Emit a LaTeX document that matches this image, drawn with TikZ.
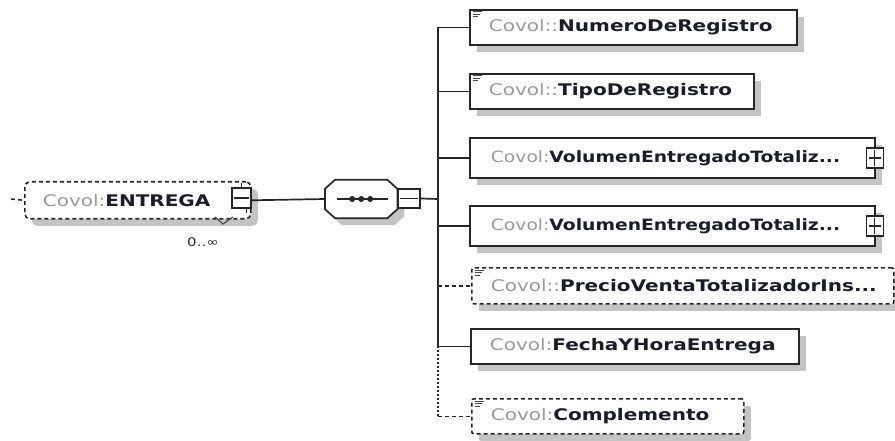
\documentclass[tikz,border=0pt]{standalone}
\usepackage{fontspec}
\newfontfamily\elfont[FakeStretch=1.25]{DejaVu Sans}
\newfontfamily\elfontn[FakeStretch=1.2]{DejaVu Sans}
\usetikzlibrary{shadows}
\definecolor{pfx}{HTML}{9A9A9A}
\definecolor{nm}{HTML}{1C1C28}
\definecolor{shd}{HTML}{C4C4C4}
\newcommand{\elt}[2]{\mbox{\textcolor{pfx}{#1}\textbf{\textcolor{nm}{#2}}}}
\begin{document}
\begin{tikzpicture}[x=1pt,y=-1pt,
  elem/.style={draw=black!85, line width=1.8pt, fill=white,
    general shadow={fill=shd, shadow xshift=7pt, shadow yshift=-7pt},
    anchor=north west, minimum height=35pt, inner xsep=19pt, inner ysep=0pt,
    align=left, font=\elfont\fontsize{16}{18}\selectfont},
  optelem/.style={elem, line width=1.6pt, dash pattern=on 4pt off 3pt, rounded corners=2pt},
  narrowtext/.style={font=\elfontn\fontsize{15.6}{17}\selectfont},
  conn/.style={draw=black!85, line width=1.7pt},
  optconn/.style={conn, line width=1.5pt, dash pattern=on 4pt off 3pt},
  dotconn/.style={conn, line width=1.5pt, dash pattern=on 2pt off 2pt},
  pmbox/.style={draw=black!85, line width=1.4pt, fill=white, minimum width=17pt, minimum height=20pt, inner sep=0pt},
  icon/.style={draw=black!70, line width=1pt}
]
\useasboundingbox (0,0) rectangle (895,441);

% root element
\node[optelem, text width=190pt, minimum height=37pt, inner xsep=18pt, rounded corners=5pt] (ent) at (24,181) {\elt{Covol:}{ENTREGA}};
\node[pmbox, minimum width=19pt, minimum height=20pt] (entpm) at (241.5,198) {};
\draw[conn, line width=1.3pt] ([xshift=3pt]entpm.west) -- ([xshift=-3pt]entpm.east);
\draw[conn, line width=1.2pt] (entpm.north) -- ++(0,-4);
\draw[conn, line width=1.2pt] ([xshift=5pt]entpm.south) -- ++(0,4);
\draw[optconn] (11,199) -- (ent.west);
\draw[line width=1.2pt, black!70] (215,217) -- (223,224) -- (233,217);
\node[font=\elfont\fontsize{12}{14}\selectfont, text=black!80, inner sep=0pt] (mult) at (203,242) {0..∞};

% sequence compositor
\node[minimum width=72pt, minimum height=38pt, inner sep=0pt, anchor=west] (seq) at (325,199) {};
\draw[line width=1.7pt, draw=black!85, fill=white,
      general shadow={fill=shd, shadow xshift=7pt, shadow yshift=-7pt}]
  ([xshift=10pt]seq.north west) -- ([xshift=-10pt]seq.north east) -- ([yshift=-9pt]seq.north east)
  -- ([yshift=9pt]seq.south east) -- ([xshift=-10pt]seq.south east) -- ([xshift=10pt]seq.south west)
  -- ([yshift=9pt]seq.south west) -- ([yshift=-9pt]seq.north west) -- cycle;
\draw[line width=1.5pt, black!85] ([xshift=12pt]seq.west) -- ([xshift=-9pt]seq.east);
\foreach \dx in {-9,0,9} \fill[black!85] ([xshift=\dx pt]seq.center) circle (3pt);
\node[pmbox, minimum width=22pt, minimum height=19pt] (seqpm) at (409,198.5) {};
\draw[conn, line width=1.3pt] ([xshift=3pt]seqpm.west) -- ([xshift=-3pt]seqpm.east);
\draw[conn] (entpm.east |- ent.west) -- (seq.west);
\coordinate (bus) at (438,199);
\draw[conn] (seqpm.east) -- (bus);

% children
\node[elem, text width=289pt] (num) at (469,9) {\elt{Covol::}{NumeroDeRegistro}};
\node[elem, text width=246pt] (tipo) at (469,73) {\elt{Covol::}{TipoDeRegistro}};
\node[elem, narrowtext, text width=363pt, minimum height=40pt, inner xsep=21pt] (vol1) at (469,137) {\elt{Covol:}{VolumenEntregadoTotaliz...}};
\node[elem, narrowtext, text width=363pt, minimum height=40pt, inner xsep=21pt] (vol2) at (469,205) {\elt{Covol:}{VolumenEntregadoTotaliz...}};
\node[optelem, text width=384pt, minimum height=36pt] (precio) at (471,267) {\elt{Covol::}{PrecioVentaTotalizadorIns...}};
\node[elem, text width=290pt] (fecha) at (470,328) {\elt{Covol:}{FechaYHoraEntrega}};
\node[optelem, text width=234pt] (compl) at (471,398) {\elt{Covol:}{Complemento}};

% expand boxes
\foreach \b in {vol1,vol2}{
  \node[pmbox] (\b pm) at ([xshift=-1pt]\b.east) {};
  \draw[conn, line width=1.3pt] ([xshift=3pt]\b pm.west) -- ([xshift=-3pt]\b pm.east);
  \draw[conn, line width=1.3pt] ([yshift=-3pt]\b pm.north) -- ([yshift=3pt]\b pm.south);
}

% simple-content icons
\foreach \b in {num,tipo,precio,compl}{
  \draw[icon] ([xshift=4pt,yshift=-3pt]\b.north west) -- ++(9,0);
  \draw[icon] ([xshift=4pt,yshift=-5.5pt]\b.north west) -- ++(7,0);
  \draw[icon] ([xshift=4pt,yshift=-8pt]\b.north west) -- ++(5,0);
}

% bus and connectors
\draw[conn] (bus |- num.west) -- (bus |- fecha.west);
\draw[dotconn] (bus |- fecha.west) -- (bus |- compl.west);
\draw[conn] (bus |- num.west) -- (num.west);
\draw[conn] (bus |- tipo.west) -- (tipo.west);
\draw[conn] (bus |- vol1.west) -- (vol1.west);
\draw[conn] (bus |- vol2.west) -- (vol2.west);
\draw[optconn] (bus |- precio.west) -- (precio.west);
\draw[conn] (bus |- fecha.west) -- (fecha.west);
\draw[optconn] (bus |- compl.west) -- (compl.west);
\end{tikzpicture}
\end{document}
